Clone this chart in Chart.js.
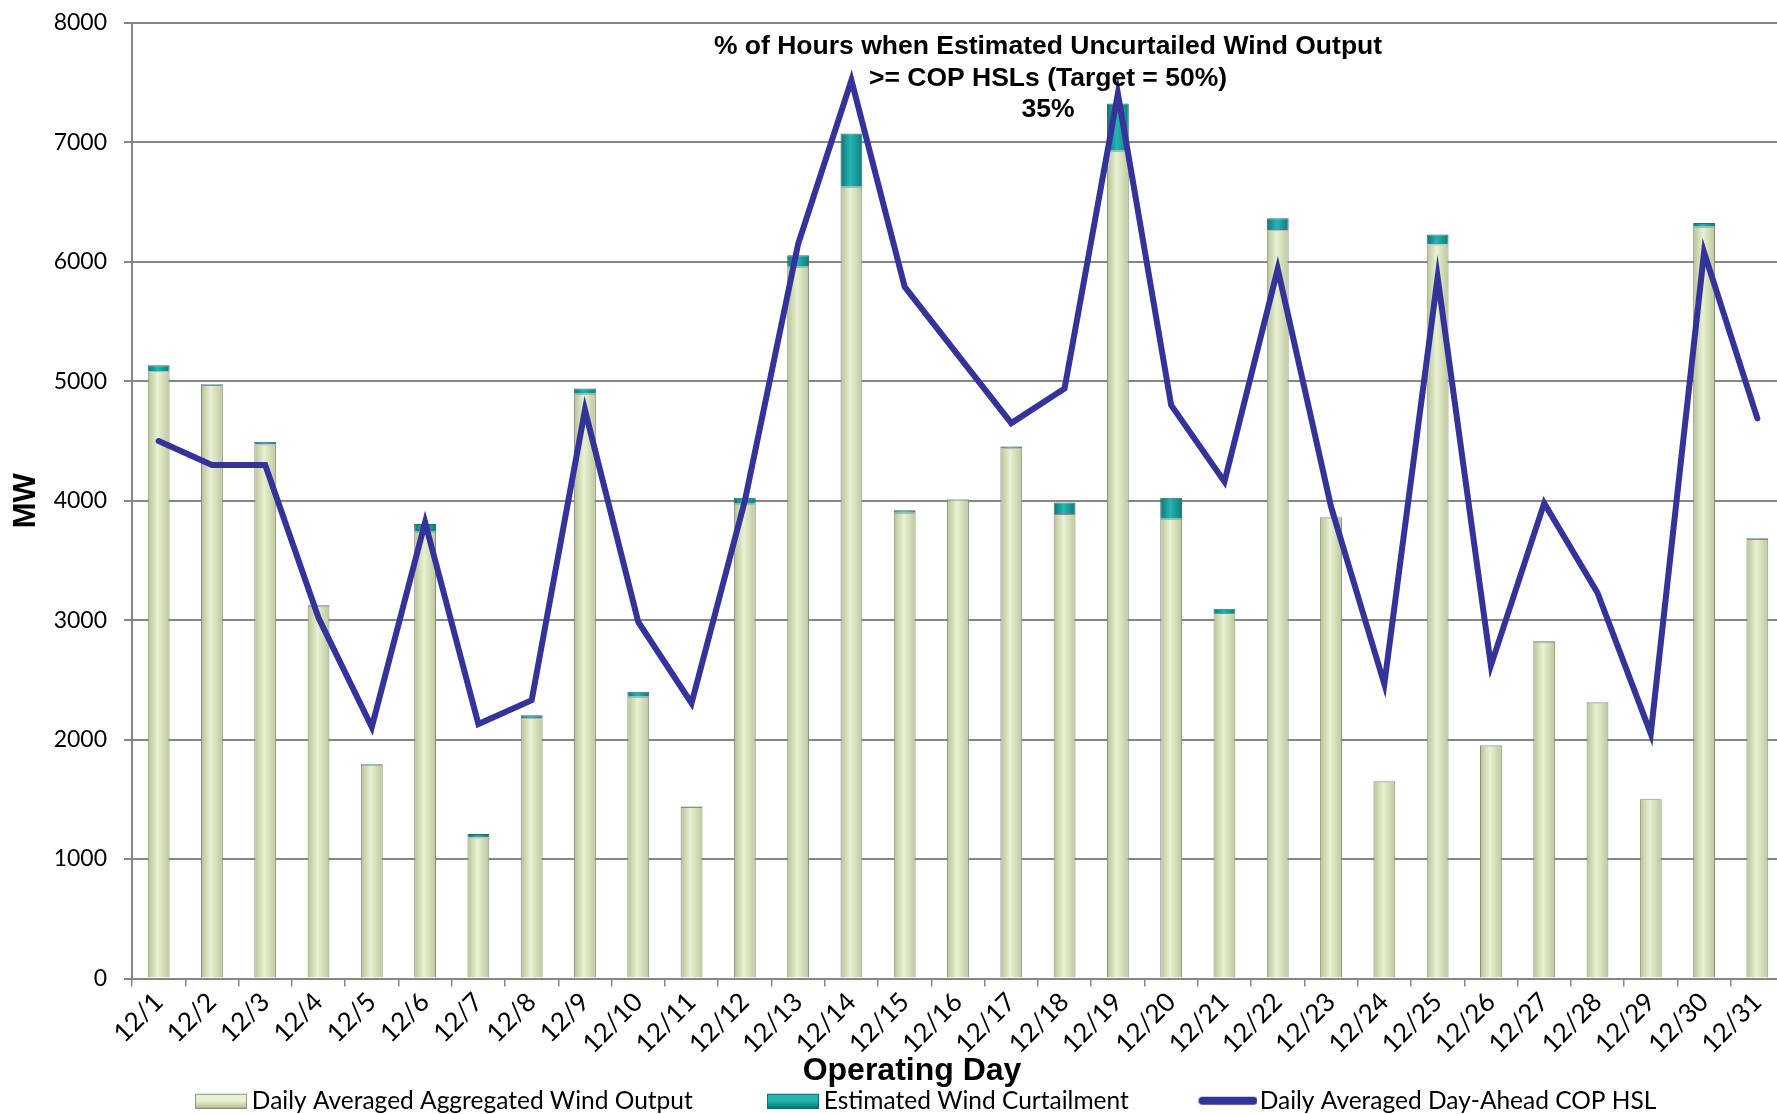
<!DOCTYPE html>
<html><head><meta charset="utf-8">
<script src="https://cdn.jsdelivr.net/npm/chart.js@4.4.1/dist/chart.umd.min.js"></script>
<style>
html,body{margin:0;padding:0;overflow:hidden;background:#fff;width:1777px;height:1114px;}
#wrap{position:absolute;left:0;top:0;width:1824px;height:1123px;}
</style></head><body>
<div id="wrap"><canvas id="c" width="1824" height="1123"></canvas></div>
<script>
const days = ['12/1','12/2','12/3','12/4','12/5','12/6','12/7','12/8','12/9','12/10','12/11','12/12','12/13','12/14','12/15','12/16','12/17','12/18','12/19','12/20','12/21','12/22','12/23','12/24','12/25','12/26','12/27','12/28','12/29','12/30','12/31'];
const windOutput = [5085,4970,4470,3120,1790,3740,1180,2180,4895,2360,1435,3975,5960,6630,3900,4010,4440,3890,6930,3850,3060,6265,3860,1650,6145,1950,2820,2310,1500,6295,3680];
const curtailment = [50,5,25,10,5,65,30,25,45,40,5,50,95,445,20,5,15,95,395,175,35,100,5,5,85,5,5,5,5,30,5];
const copHSL = [4500,4300,4300,3020,2105,3820,2130,2330,4760,2985,2305,4000,6150,7520,5790,5220,4650,4940,7410,4800,4160,5940,3950,2465,5870,2620,3980,3230,2050,6080,4690];
const yMin = 0, yMax = 8000, yStep = 1000;
const seriesNames = ['Daily Averaged Aggregated Wind Output','Estimated Wind Curtailment','Daily Averaged Day-Ahead COP HSL'];
const noteLines = ['% of Hours when Estimated Uncurtailed Wind Output','>= COP HSLs (Target = 50%)','35%'];
const xTitle = 'Operating Day';
const yTitle = 'MW';

const BAR_PCT = 0.41;
const GRID = '#868686';
const GREEN = ['#b6c294','#e9f1d4','#bcc899'];
const TEAL = ['#0b7574','#25b5b2','#0c7d7c'];

function barGradient(c, stops){
  const chart = c.chart;
  const xs = chart.scales && chart.scales.x;
  if (!chart.chartArea || c.type !== 'data' || !xs || xs.width === undefined) return stops[1];
  const x = xs.getPixelForValue(c.dataIndex);
  const w = (xs.width / days.length) * BAR_PCT;
  const g = chart.ctx.createLinearGradient(x - w/2, 0, x + w/2, 0);
  g.addColorStop(0, stops[0]);
  g.addColorStop(0.45, stops[1]);
  g.addColorStop(1, stops[2]);
  return g;
}

// legend swatches drawn on small offscreen canvases (shifted right toward their text)
function rectSwatch(stops, border){
  const cv = document.createElement('canvas');
  cv.width = 67; cv.height = 16;
  const g = cv.getContext('2d');
  const gr = g.createLinearGradient(0, 1, 0, 15);
  gr.addColorStop(0, stops[1]); gr.addColorStop(0.5, stops[1]); gr.addColorStop(1, stops[0]);
  g.fillStyle = gr;
  g.fillRect(15.5, 1.5, 51, 14);
  g.strokeStyle = border; g.lineWidth = 1;
  g.strokeRect(15.5, 1.5, 51, 14);
  return cv;
}
function lineSwatch(color){
  const cv = document.createElement('canvas');
  cv.width = 72; cv.height = 12;
  const g = cv.getContext('2d');
  g.strokeStyle = color; g.lineWidth = 8; g.lineCap = 'round';
  g.beginPath(); g.moveTo(17, 6); g.lineTo(68, 6); g.stroke();
  return cv;
}

const notePlugin = {
  id:'note',
  afterLayout(chart){
    // nudge the legend block slightly right, as in the original layout
    if (chart.legend){ chart.legend.left += 10; chart.legend.right += 10; }
  },
  afterDatasetsDraw(chart){
    const c = chart.ctx;
    c.save();
    c.font = 'bold 26.5px "Liberation Sans", Arial, sans-serif';
    c.fillStyle = '#000';
    c.textAlign = 'center';
    c.textBaseline = 'middle';
    const ys = [47, 79, 110];
    noteLines.forEach((t,i)=>c.fillText(t, 1048, ys[i]));
    c.restore();
  }
};

const pad = ' '.repeat(10);

new Chart(document.getElementById('c'), {
  type:'bar',
  data:{
    labels: days,
    datasets:[
      {type:'bar', label:seriesNames[0], data:windOutput, stack:'w', order:2,
       backgroundColor:c=>barGradient(c,GREEN),
       borderColor:'#878c7f', borderWidth:1,
       categoryPercentage:1, barPercentage:BAR_PCT},
      {type:'bar', label:seriesNames[1], data:curtailment, stack:'w', order:2,
       backgroundColor:c=>barGradient(c,TEAL),
       borderColor:'#2f6a69', borderWidth:1,
       categoryPercentage:1, barPercentage:BAR_PCT},
      {type:'line', label:seriesNames[2], data:copHSL, stack:'l', order:1,
       borderColor:'#333399', backgroundColor:'#333399', borderWidth:6,
       pointRadius:0, tension:0, fill:false, borderCapStyle:'round', borderJoinStyle:'miter'}
    ]
  },
  options:{
    responsive:false, animation:false, devicePixelRatio:1,
    layout:{padding:{top:23,right:0,left:0,bottom:0}},
    scales:{
      x:{stacked:true, offset:true,
         grid:{display:true, offset:true, drawOnChartArea:false, drawTicks:true, tickLength:8, color:GRID, lineWidth:1.5},
         border:{display:true, color:GRID, width:2},
         ticks:{font:{family:'Lato', size:26}, color:'#000', minRotation:45, maxRotation:45, autoSkip:false, padding:0},
         afterFit:s=>{s.height = 77;}},
      y:{stacked:true, min:yMin, max:yMax,
         ticks:{stepSize:yStep, font:{family:'Lato', size:23}, color:'#000', padding:0,
                callback:v=>String(v)},
         grid:{color:GRID, lineWidth:2, tickLength:25, tickBorderDash:[8, 17], tickBorderDashOffset:8},
         border:{color:GRID, width:2},
         title:{display:true, text:yTitle, color:'#000', font:{family:'Liberation Sans', weight:'bold', size:31}, padding:{top:8,bottom:0}},
         afterFit:s=>{s.width = 132;}},
      yr:{position:'right', display:true, min:yMin, max:yMax,
          ticks:{display:false}, grid:{display:false, drawTicks:false}, border:{display:false},
          afterFit:s=>{s.width = 40;}}
    },
    plugins:{
      tooltip:{enabled:false},
      title:{display:true, position:'bottom', text:xTitle, color:'#000', weight:500,
             font:{family:'Liberation Sans', weight:'bold', size:32, lineHeight:1}, padding:{top:0,bottom:-3}},
      legend:{position:'bottom',
        labels:{font:{family:'Lato', size:24.5}, color:'#000', usePointStyle:true, pointStyleWidth:52, boxHeight:16, padding:4,
          generateLabels:()=>[
            {text:seriesNames[0]+pad, pointStyle:rectSwatch(GREEN,'#8b9083'), fillStyle:'#dce7c2', strokeStyle:'#8b9083', lineWidth:0, datasetIndex:0, hidden:false},
            {text:seriesNames[1]+pad, pointStyle:rectSwatch(TEAL,'#0d6e6e'), fillStyle:'#1aa6a3', strokeStyle:'#0d6e6e', lineWidth:0, datasetIndex:1, hidden:false},
            {text:seriesNames[2], pointStyle:lineSwatch('#333399'), fillStyle:'#333399', strokeStyle:'#333399', lineWidth:0, datasetIndex:2, hidden:false}
          ]}}
    }
  },
  plugins:[notePlugin]
});
</script>
</body></html>
